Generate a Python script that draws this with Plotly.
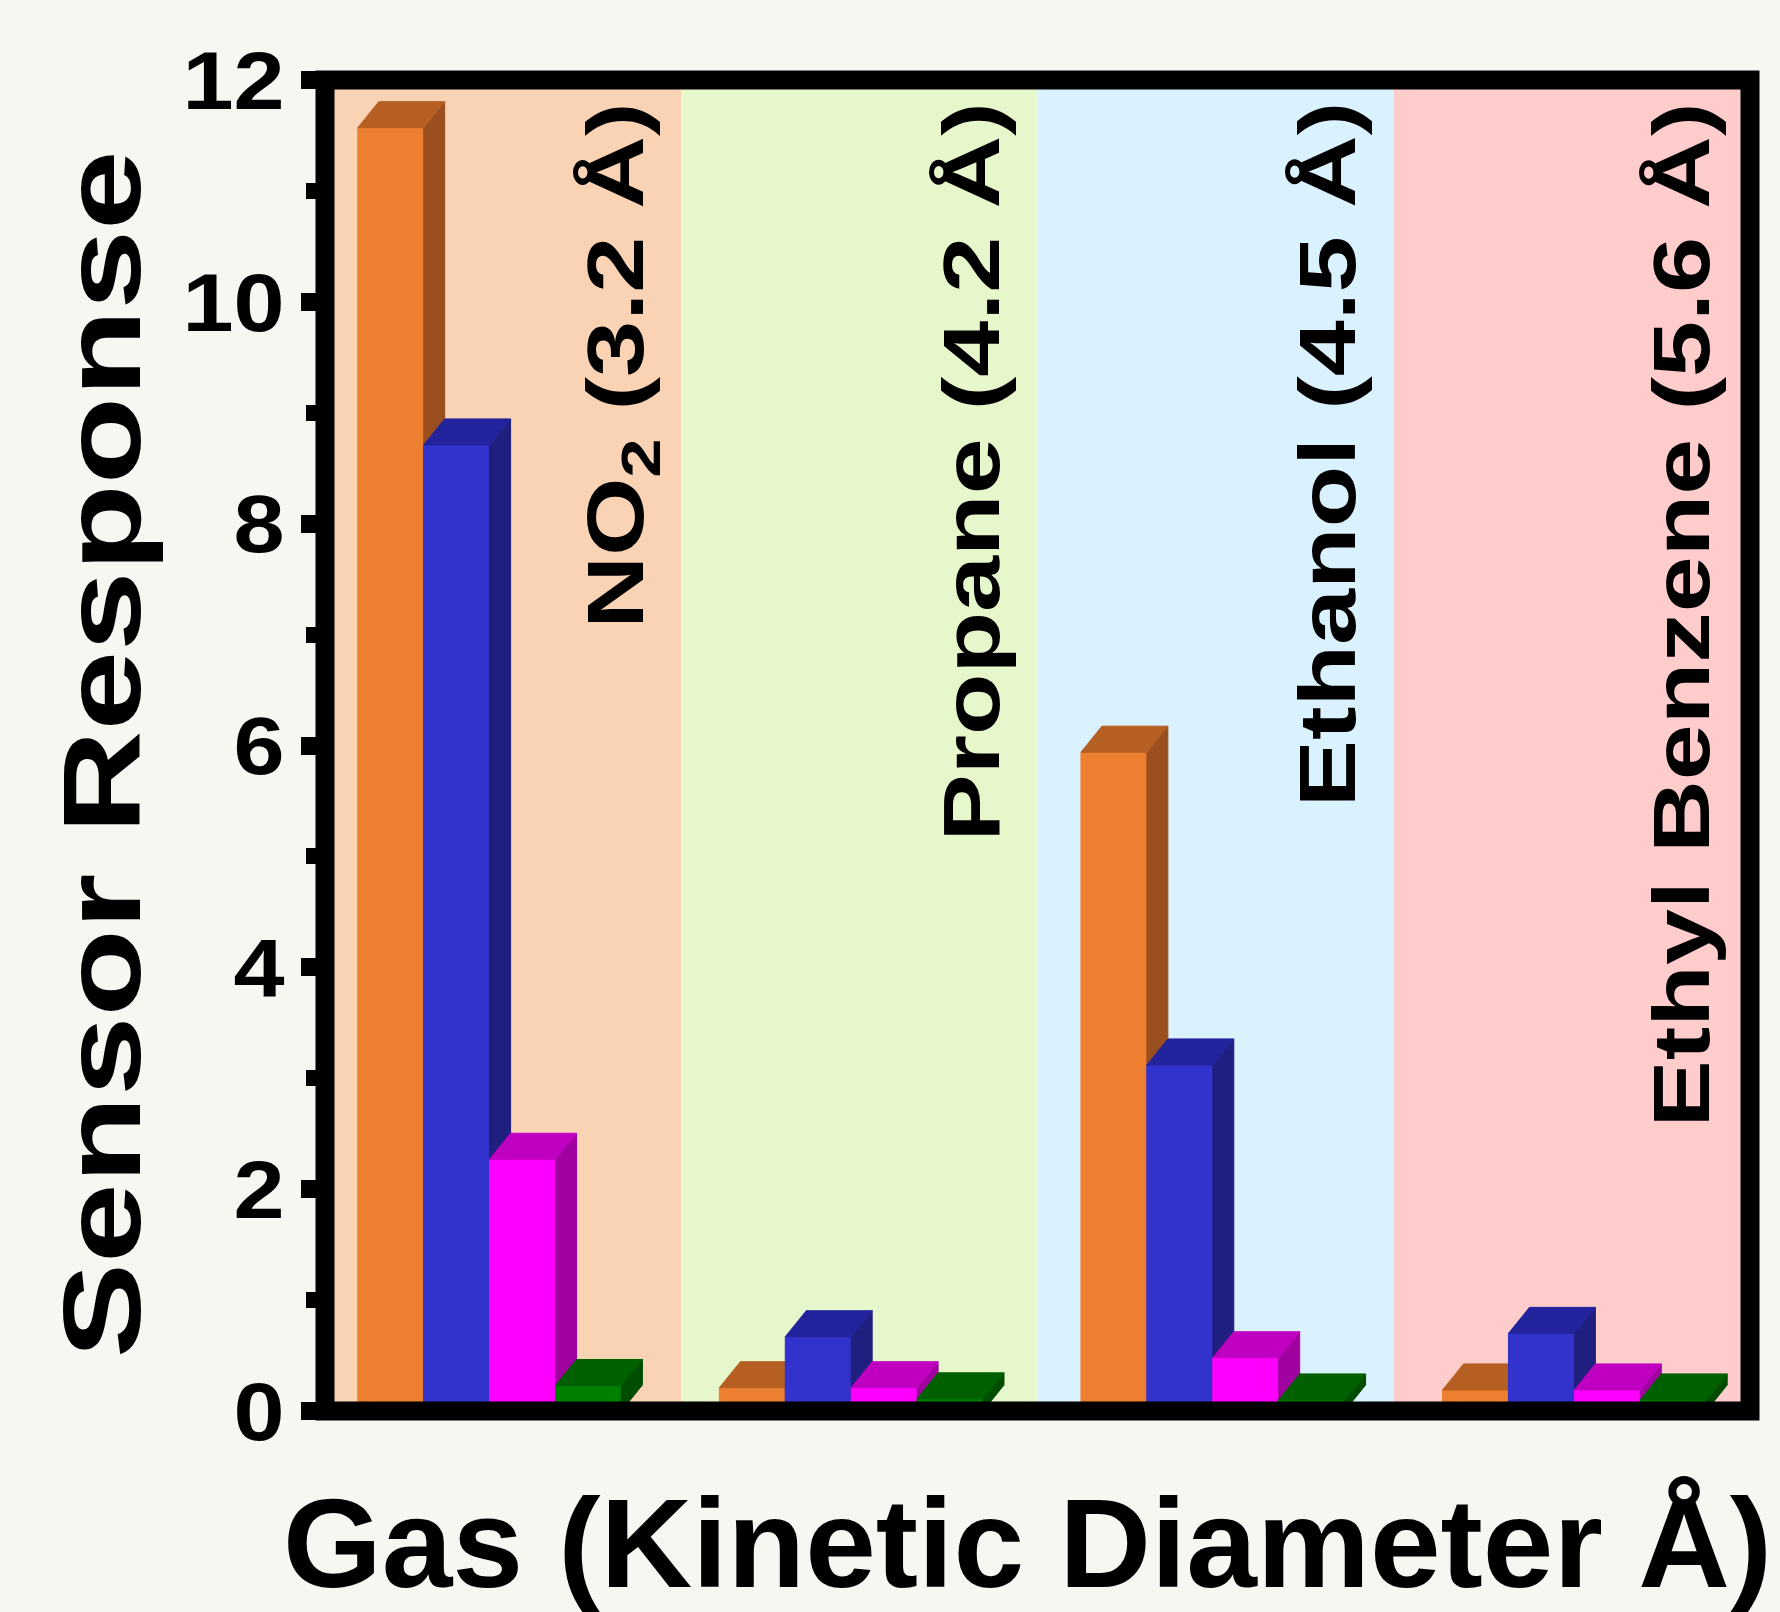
import plotly.graph_objects as go

# ---- data -------------------------------------------------------------
gases = ["NO<sub>2</sub> (3.2 Å)", "Propane (4.2 Å)", "Ethanol (4.5 Å)", "Ethyl Benzene (5.6 Å)"]
series_names = ["Sensor 1", "Sensor 2", "Sensor 3", "Sensor 4"]
orange_vals = [11.57, 0.21, 5.94, 0.19]
blue_vals = [8.71, 0.67, 3.12, 0.70]
magenta_vals = [2.27, 0.21, 0.48, 0.19]
green_vals = [0.23, 0.11, 0.10, 0.10]
y_ticks = [0, 2, 4, 6, 8, 10, 12]
y_tick_text = ["0", "2", "4", "6", "8", "10", "12"]

# ---- styling ------------------------------------------------------------
W, H = 1780, 1612
ML, MR, MT, MB = 325, 30, 80, 201
PLOT_W = W - ML - MR
PLOT_H = H - MT - MB
X_RANGE = [-0.5, len(gases) - 0.5]
Y_RANGE = [0, 12]
PX_X = PLOT_W / (X_RANGE[1] - X_RANGE[0])
PX_Y = PLOT_H / (Y_RANGE[1] - Y_RANGE[0])

DEPTH_PX = (21, 26)          # 3-D extrusion of each bar, in pixels
DX = DEPTH_PX[0] / PX_X
DY = DEPTH_PX[1] / PX_Y
BAR_W = 0.185                # front-face width in category units
GROUP_START = -0.408         # left edge of first bar relative to category centre
GROUP_PITCH = 1.015          # spacing between bar groups in category units

band_colors = ["#FAD3B5", "#E7F7CC", "#DAF1FE", "#FFCCCC"]
# (front, side, top) face colours per series
face_colors = [
    ("#ED7F31", "#9B4F1E", "#B55F22"),
    ("#3232CC", "#1F1F80", "#23239D"),
    ("#FF00FF", "#A000A0", "#C000C0"),
    ("#008000", "#004C00", "#006000"),
]
FONT = "Liberation Sans, Arial, Helvetica, sans-serif"

series_vals = [orange_vals, blue_vals, magenta_vals, green_vals]

fig = go.Figure()

# 3-D bars drawn left to right so each bar overlaps the side of its neighbour
for k, (name, vals, cols) in enumerate(zip(series_names, series_vals, face_colors)):
    fx, fy, sx, sy, tx, ty = [], [], [], [], [], []
    for i, v in enumerate(vals):
        x0 = i * GROUP_PITCH + GROUP_START + k * BAR_W
        x1 = x0 + BAR_W
        fx += [x0, x1, x1, x0, x0, None]
        fy += [0, 0, v, v, 0, None]
        sx += [x1, x1 + DX, x1 + DX, x1, x1, None]
        sy += [0, DY, v + DY, v, 0, None]
        tx += [x0, x1, x1 + DX, x0 + DX, x0, None]
        ty += [v, v, v + DY, v + DY, v, None]
    for xs, ys, col in ((fx, fy, cols[0]), (sx, sy, cols[1]), (tx, ty, cols[2])):
        fig.add_trace(go.Scatter(
            x=xs, y=ys, mode="lines", fill="toself", fillcolor=col,
            line=dict(color=col, width=1), name=name, showlegend=False,
            hoverinfo="skip",
        ))

# coloured background band behind each gas
shapes = []
for i, c in enumerate(band_colors):
    shapes.append(dict(type="rect", xref="x", yref="paper", x0=i - 0.5, x1=i + 0.5,
                       y0=0, y1=1, fillcolor=c, line=dict(width=0), layer="below"))
# heavy black frame
shapes.append(dict(type="rect", xref="paper", yref="paper", x0=0, x1=1, y0=0, y1=1,
                   line=dict(color="black", width=19), fillcolor="rgba(0,0,0,0)",
                   layer="above"))

label_shift_px = [-59, -66, -66, -68]
annotations = []
for i, g in enumerate(gases):
    annotations.append(dict(
        text=g, xref="x", yref="paper", x=i + 0.5 + label_shift_px[i] / PX_X,
        y=(PLOT_H - 20) / PLOT_H,
        xanchor="center", yanchor="top", textangle=-90, showarrow=False,
        font=dict(family=FONT, size=80, color="black", weight="bold"),
    ))
annotations.append(dict(
    text="Sensor Response", xref="paper", yref="paper",
    x=(101 - ML) / PLOT_W, y=(PLOT_H + MT - 755) / PLOT_H,
    xanchor="center", yanchor="middle", textangle=-90, showarrow=False,
    font=dict(family=FONT, size=110, color="black", weight="bold"),
))
annotations.append(dict(
    text="Gas (Kinetic Diameter Å)", xref="paper", yref="paper",
    x=(1027 - ML) / PLOT_W, y=(PLOT_H + MT - 1543) / PLOT_H,
    xanchor="center", yanchor="middle", showarrow=False,
    font=dict(family=FONT, size=127, color="black", weight="bold"),
))

fig.update_layout(
    width=W, height=H,
    margin=dict(l=ML, r=MR, t=MT, b=MB, pad=0),
    paper_bgcolor="#F7F6F1", plot_bgcolor="#F7F6F1",
    showlegend=False, hovermode=False,
    shapes=shapes, annotations=annotations,
    xaxis=dict(range=X_RANGE, showticklabels=False, ticks="", showgrid=False,
               zeroline=False, showline=False, fixedrange=True),
    yaxis=dict(range=Y_RANGE, tickvals=y_ticks, ticktext=y_tick_text,
               ticks="outside", ticklen=23, tickwidth=18, tickcolor="black",
               ticklabelstandoff=0,
               tickfont=dict(family=FONT, size=82, color="black", weight="bold"),
               minor=dict(dtick=1, ticks="outside", ticklen=18, tickwidth=16,
                          tickcolor="black", showgrid=False),
               showgrid=False, zeroline=False, showline=False, fixedrange=True),
)

# widen the bold lettering along its baseline (annotation index, factor, pivot)
stretch_js = """
function stretch(el, s, pivot) {
  var bb = el.getBBox();
  var px = pivot === 'end' ? bb.x + bb.width : bb.x + bb.width / 2;
  var tr = el.getAttribute('transform') || '';
  el.setAttribute('transform', tr + ' translate(' + px + ',0) scale(' + s + ',1) translate(' + (-px) + ',0)');
}
var rules = {0: [1.26, 'end'], 1: [1.26, 'end'], 2: [1.26, 'end'], 3: [1.26, 'end'], 4: [1.30, 'middle']};
document.querySelectorAll('g.annotation').forEach(function (g, n) {
  var idx = g.getAttribute('data-index');
  idx = idx === null ? n : parseInt(idx, 10);
  var r = rules[idx];
  if (!r) return;
  var t = g.querySelector('text.annotation-text');
  if (t) stretch(t, r[0], r[1]);
});
document.querySelectorAll('g.ytick text').forEach(function (t) { stretch(t, 1.12, 'end'); });
"""

fig.write_html("out.html", config={"displayModeBar": False, "staticPlot": True},
               post_script=stretch_js)
